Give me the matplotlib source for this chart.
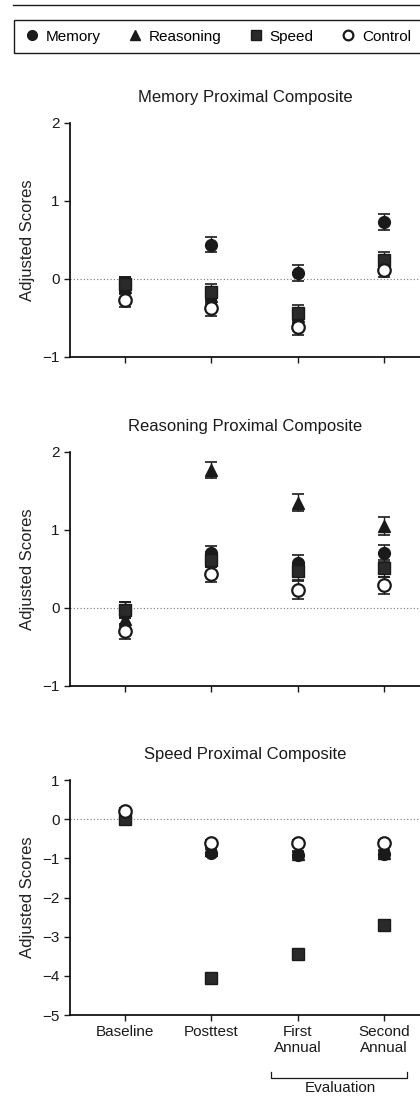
import numpy as np
import matplotlib.pyplot as plt
from matplotlib.lines import Line2D
from matplotlib.patches import Rectangle
import matplotlib.transforms as mtransforms

plt.rcParams['font.family'] = ['Liberation Sans', 'DejaVu Sans']

timepoints = ["Baseline", "Posttest", "First\nAnnual", "Second\nAnnual"]
groups = ["Memory", "Reasoning", "Speed", "Control"]

# Memory proximal composite
mem_memory = [-0.06, 0.44, 0.08, 0.73]
mem_reasoning = [-0.10, -0.22, -0.47, 0.20]
mem_speed = [-0.06, -0.17, -0.43, 0.24]
mem_control = [-0.27, -0.37, -0.62, 0.12]
mem_se = [0.09, 0.10, 0.10, 0.10]

# Reasoning proximal composite
rea_memory = [-0.03, 0.70, 0.57, 0.70]
rea_reasoning = [-0.14, 1.77, 1.35, 1.05]
rea_speed = [-0.03, 0.62, 0.47, 0.51]
rea_control = [-0.30, 0.43, 0.23, 0.29]
rea_se = [0.10, 0.10, 0.11, 0.11]

# Speed proximal composite
spd_memory = [0.03, -0.85, -0.92, -0.90]
spd_reasoning = [0.05, -0.78, -0.88, -0.86]
spd_speed = [0.00, -4.05, -3.45, -2.70]
spd_control = [0.20, -0.60, -0.60, -0.60]
spd_se = [0.08, 0.08, 0.08, 0.08]

panels = [
    ("Memory Proximal Composite", [mem_memory, mem_reasoning, mem_speed, mem_control], mem_se, (-1, 2)),
    ("Reasoning Proximal Composite", [rea_memory, rea_reasoning, rea_speed, rea_control], rea_se, (-1, 2)),
    ("Speed Proximal Composite", [spd_memory, spd_reasoning, spd_speed, spd_control], spd_se, (-5, 1)),
]

ink = '#1a1a1a'
styles = {
    "Memory": dict(marker='o', mfc=ink, mec=ink, ms=8.5),
    "Reasoning": dict(marker='^', mfc=ink, mec=ink, ms=8.5),
    "Speed": dict(marker='s', mfc='#2a2a2a', mec=ink, ms=8),
    "Control": dict(marker='o', mfc='white', mec=ink, ms=9, mew=1.6),
}

fig = plt.figure(figsize=(4.2, 10.97), dpi=100)

axes_rects = [
    [0.167, 0.6746, 0.833, 0.2133],
    [0.167, 0.3747, 0.833, 0.2133],
    [0.167, 0.0747, 0.833, 0.2142],
]

x = np.arange(1, 5)
for rect, (title, series, se, ylim) in zip(axes_rects, panels):
    ax = fig.add_axes(rect)
    ax.axhline(0, color='#777777', lw=0.8, ls=(0, (1, 2)), zorder=0)
    for name, vals in zip(groups, series):
        st = dict(styles[name])
        ax.errorbar(x, vals, yerr=se, fmt='none', ecolor=ink, elinewidth=1.0,
                    capsize=4.5, capthick=1.2, zorder=2)
        ax.plot(x, vals, ls='none', zorder=3, **st)
    ax.set_xlim(0.36, 4.42)
    ax.set_ylim(*ylim)
    ax.set_yticks(np.arange(ylim[0], ylim[1] + 1))
    ax.set_xticks(x)
    ax.spines['top'].set_visible(False)
    ax.spines['right'].set_visible(False)
    ax.spines['left'].set_linewidth(1.2)
    ax.spines['bottom'].set_linewidth(1.2)
    ax.tick_params(axis='both', labelsize=11, colors=ink, length=4, width=1)
    ax.set_ylabel("Adjusted Scores", fontsize=12, color='#222222', labelpad=5)
    ax.set_title(title, fontsize=12, color=ink, pad=15)
    if title.startswith("Speed"):
        ax.set_xticklabels(timepoints, linespacing=1.1)
        trans = mtransforms.blended_transform_factory(ax.transData, ax.transAxes)
        ax.plot([2.69, 2.69, 4.27, 4.27], [-0.243, -0.268, -0.268, -0.243],
                color=ink, lw=0.9, transform=trans, clip_on=False)
        ax.text(3.5, -0.312, "Evaluation", transform=trans, ha='center', va='center',
                fontsize=11, color=ink)
    else:
        ax.set_xticklabels([])

# top rule and legend box
fig.add_artist(Line2D([0.03, 1.0], [0.9954, 0.9954], color=ink, lw=1.0))
fig.add_artist(Rectangle((0.034, 0.9517), 1.0, 0.0300, fill=False, ec=ink, lw=1.0,
                         transform=fig.transFigure))
handles = [Line2D([], [], ls='none', **dict(styles[g], ms=7)) for g in groups]
fig.legend(handles, groups, loc='center', bbox_to_anchor=(0.52, 0.9667), ncol=4,
           frameon=False, fontsize=11, handletextpad=0.5, columnspacing=1.85,
           handlelength=0.8)

fig.savefig("out.png", dpi=100)
